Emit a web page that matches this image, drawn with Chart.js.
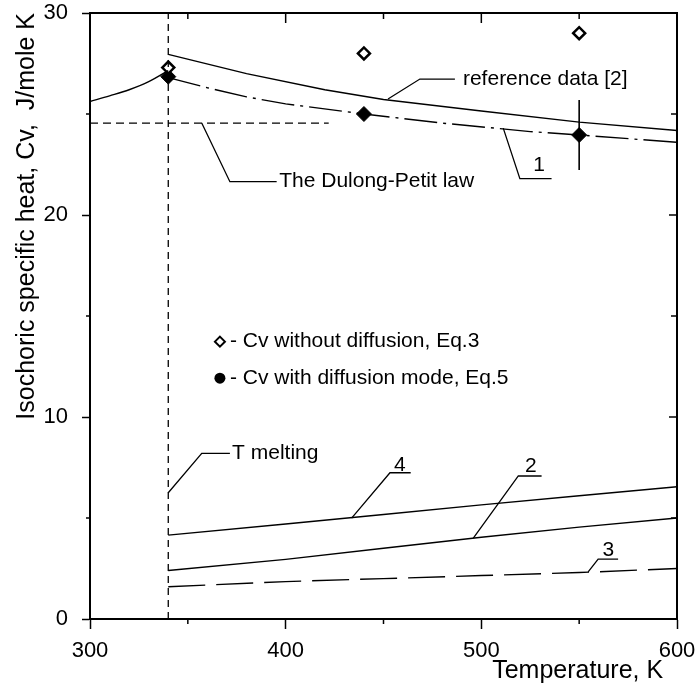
<!DOCTYPE html>
<html>
<head>
<meta charset="utf-8">
<script src="https://cdn.jsdelivr.net/npm/chart.js@4.4.0/dist/chart.umd.min.js"></script>
<style>
  html, body { margin: 0; padding: 0; background: #fff; }
  canvas { display: block; }
</style>
</head>
<body>
<canvas id="cvChart" width="696" height="692"></canvas>
<script>
// reference data [2], solid below and liquid above the melting point
const refSolidT = [300, 310, 320, 330, 340];
const refSolidCv = [25.62, 25.9, 26.2, 26.6, 27.15];
const refLiquidT = [340, 380, 420, 450, 500, 550, 600];
const refLiquidCv = [27.95, 27.0, 26.2, 25.72, 25.15, 24.6, 24.18];

// curve 1 (dash-dot)
const curve1T = [340, 360, 380, 400, 440, 480, 525, 550, 600];
const curve1Cv = [26.8, 26.3, 25.85, 25.5, 25.0, 24.55, 24.13, 23.96, 23.6];

// curves 2, 3, 4 near the bottom
const lowT = [340, 400, 450, 500, 550, 600];
const curve2Cv = [2.4, 2.95, 3.5, 4.05, 4.55, 5.0];
const curve3Cv = [1.6, 1.85, 2.0, 2.15, 2.3, 2.5];
const curve4Cv = [4.15, 4.7, 5.17, 5.65, 6.1, 6.55];

// markers
const eq3T = [340, 440, 550];
const eq3Cv = [27.3, 28.0, 29.0];
const eq5T = [340, 440, 550];
const eq5Cv = [26.85, 25.0, 23.96];
const eq5Err = [0, 0, 1.73];

// reference lines
const dulongPetitT = [300, 422];
const dulongPetitCv = 24.55;
const tMelting = 340;

const xTicks = [300, 400, 500, 600];
const yTicks = [0, 10, 20, 30];

const FONT = '"Liberation Sans", Arial, sans-serif';
Chart.defaults.font.family = FONT;
Chart.defaults.color = '#000';

function pts(xs, ys) {
  return xs.map((x, i) => ({x: x, y: ys[i]}));
}

function lineSet(label, data, dash, extra) {
  return Object.assign({
    label: label,
    data: data,
    showLine: true,
    borderColor: '#000',
    borderWidth: 1.4,
    borderDash: dash,
    pointRadius: 0,
    fill: false
  }, extra || {});
}

// no label overhang: the frame is placed by layout padding only
function noOverhang(s) {
  s.paddingTop = 0; s.paddingBottom = 0; s.paddingLeft = 0; s.paddingRight = 0;
}

// leader lines with their labels, in data units
const callouts = [
  {text: 'reference data [2]', path: [[452.3, 25.74], [468.6, 26.73], [486.5, 26.73]], at: [490.6, 26.73], align: 'left'},
  {text: 'The Dulong-Petit law', path: [[357.1, 24.55], [371.5, 21.65], [395.4, 21.65]], at: [396.7, 21.65], align: 'left'},
  {text: 'T melting', path: [[340, 6.25], [357.1, 8.2], [371.5, 8.2]], at: [372.6, 8.2], align: 'left'},
  {text: '1', path: [[511.2, 24.3], [519.7, 21.8], [535.9, 21.8]], at: [529.5, 22.45], align: 'center'},
  {text: '4', path: [[433.7, 4.99], [453.3, 7.24], [463.9, 7.24]], at: [458.4, 7.62], align: 'center'},
  {text: '2', path: [[495.9, 4.0], [518.9, 7.08], [530.8, 7.08]], at: [525.3, 7.55], align: 'center'},
  {text: '3', path: [[554.6, 2.33], [559.7, 2.96], [569.9, 2.96]], at: [564.9, 3.42], align: 'center'}
];

const keyRows = [
  {marker: 'open', text: '- Cv without diffusion, Eq.3', at: [366.4, 13.73]},
  {marker: 'filled', text: '- Cv with diffusion mode, Eq.5', at: [366.4, 11.92]}
];

const extras = {
  id: 'extras',
  afterDatasetsDraw(chart) {
    const ctx = chart.ctx;
    const xs = chart.scales.x, ys = chart.scales.y;
    const a = chart.chartArea;
    const X = v => xs.getPixelForValue(v);
    const Y = v => ys.getPixelForValue(v);
    ctx.save();
    ctx.strokeStyle = '#000';
    ctx.fillStyle = '#000';

    // minor / inner ticks
    ctx.lineWidth = 1.5;
    function tick(x1, y1, x2, y2) {
      ctx.beginPath(); ctx.moveTo(x1, y1); ctx.lineTo(x2, y2); ctx.stroke();
    }
    [350, 450, 550].forEach(v => tick(X(v), a.bottom, X(v), a.bottom + 5));
    [5, 15, 25].forEach(v => tick(a.left, Y(v), a.left - 4, Y(v)));
    [350, 450, 550].forEach(v => tick(X(v), a.top, X(v), a.top + 6));
    [400, 500].forEach(v => tick(X(v), a.top, X(v), a.top + 10));
    [5, 15, 25].forEach(v => tick(a.right, Y(v), a.right - 6, Y(v)));
    [10, 20].forEach(v => tick(a.right, Y(v), a.right - 8, Y(v)));

    // error bars
    ctx.lineWidth = 1.6;
    eq5T.forEach((t, i) => {
      if (!eq5Err[i]) return;
      tick(X(t), Y(eq5Cv[i] - eq5Err[i]), X(t), Y(eq5Cv[i] + eq5Err[i]));
    });

    // callouts
    ctx.lineWidth = 1.3;
    ctx.font = '21px ' + FONT;
    ctx.textBaseline = 'middle';
    callouts.forEach(c => {
      ctx.beginPath();
      c.path.forEach((p, i) => {
        if (i === 0) ctx.moveTo(X(p[0]), Y(p[1]));
        else ctx.lineTo(X(p[0]), Y(p[1]));
      });
      ctx.stroke();
      ctx.textAlign = c.align;
      ctx.fillText(c.text, X(c.at[0]), Y(c.at[1]));
    });

    // inner key
    keyRows.forEach(r => {
      const mx = X(r.at[0]), my = Y(r.at[1]);
      if (r.marker === 'open') {
        ctx.beginPath();
        ctx.moveTo(mx, my - 5); ctx.lineTo(mx + 5, my); ctx.lineTo(mx, my + 5); ctx.lineTo(mx - 5, my);
        ctx.closePath();
        ctx.fillStyle = '#fff'; ctx.fill();
        ctx.lineWidth = 2; ctx.stroke();
        ctx.fillStyle = '#000';
      } else {
        ctx.beginPath(); ctx.arc(mx, my, 5.5, 0, Math.PI * 2); ctx.fill();
      }
      ctx.textAlign = 'left';
      ctx.fillText(r.text, mx + 10, my);
    });
    ctx.restore();
  }
};

new Chart(document.getElementById('cvChart').getContext('2d'), {
  type: 'scatter',
  data: {
    datasets: [
      lineSet('T melting', [{x: tMelting, y: 0}, {x: tMelting, y: 30}], [7, 5], {borderWidth: 1.3}),
      lineSet('The Dulong-Petit law', dulongPetitT.map(t => ({x: t, y: dulongPetitCv})), [8, 5], {borderWidth: 1.3}),
      lineSet('reference data [2] (solid)', pts(refSolidT, refSolidCv), [], {cubicInterpolationMode: 'monotone'}),
      lineSet('reference data [2]', pts(refLiquidT, refLiquidCv), []),
      lineSet('1', pts(curve1T, curve1Cv), [33, 6, 3, 6]),
      lineSet('2', pts(lowT, curve2Cv), []),
      lineSet('3', pts(lowT, curve3Cv), [37, 11]),
      lineSet('4', pts(lowT, curve4Cv), []),
      {
        label: 'Cv without diffusion, Eq.3',
        data: pts(eq3T, eq3Cv),
        pointStyle: 'rectRot',
        pointRadius: 6,
        pointBackgroundColor: '#fff',
        pointBorderColor: '#000',
        pointBorderWidth: 2.5
      },
      {
        label: 'Cv with diffusion mode, Eq.5',
        data: pts(eq5T, eq5Cv),
        pointStyle: 'rectRot',
        pointRadius: 7.5,
        pointBackgroundColor: '#000',
        pointBorderColor: '#000',
        pointBorderWidth: 1
      }
    ]
  },
  options: {
    responsive: false,
    animation: false,
    events: [],
    layout: {padding: {top: 13, right: 19, left: 0, bottom: 0}},
    plugins: {legend: {display: false}, tooltip: {enabled: false}},
    scales: {
      x: {
        type: 'linear',
        position: 'bottom',
        min: 300,
        max: 600,
        afterFit: s => { s.height = 73; noOverhang(s); },
        afterBuildTicks: s => { s.ticks = xTicks.map(v => ({value: v})); },
        ticks: {font: {size: 22}, padding: 9, maxRotation: 0, autoSkip: false},
        grid: {drawOnChartArea: false, tickLength: 10, tickColor: '#000', tickWidth: 1.5},
        border: {color: '#000', width: 2},
        title: {display: true, text: 'Temperature, K  ', align: 'end', font: {size: 25}, padding: {top: 0, bottom: 6}}
      },
      y: {
        type: 'linear',
        position: 'left',
        min: 0,
        max: 30,
        afterFit: s => { s.width = 90; noOverhang(s); },
        afterBuildTicks: s => { s.ticks = yTicks.map(v => ({value: v})); },
        ticks: {font: {size: 22}, padding: 14, autoSkip: false},
        grid: {drawOnChartArea: false, tickLength: 8, tickColor: '#000', tickWidth: 1.5},
        border: {color: '#000', width: 2},
        title: {display: true, text: 'Isochoric specific heat, Cv,  J/mole K', align: 'end', font: {size: 25}, padding: {top: 12, bottom: 0}}
      },
      xTop: {
        type: 'linear',
        position: 'top',
        min: 300,
        max: 600,
        afterFit: s => { s.height = 0; noOverhang(s); },
        ticks: {display: false},
        grid: {display: false, drawTicks: false},
        border: {color: '#000', width: 2}
      },
      yRight: {
        type: 'linear',
        position: 'right',
        min: 0,
        max: 30,
        afterFit: s => { s.width = 0; noOverhang(s); },
        ticks: {display: false},
        grid: {display: false, drawTicks: false},
        border: {color: '#000', width: 2}
      }
    }
  },
  plugins: [extras]
});
</script>
</body>
</html>
